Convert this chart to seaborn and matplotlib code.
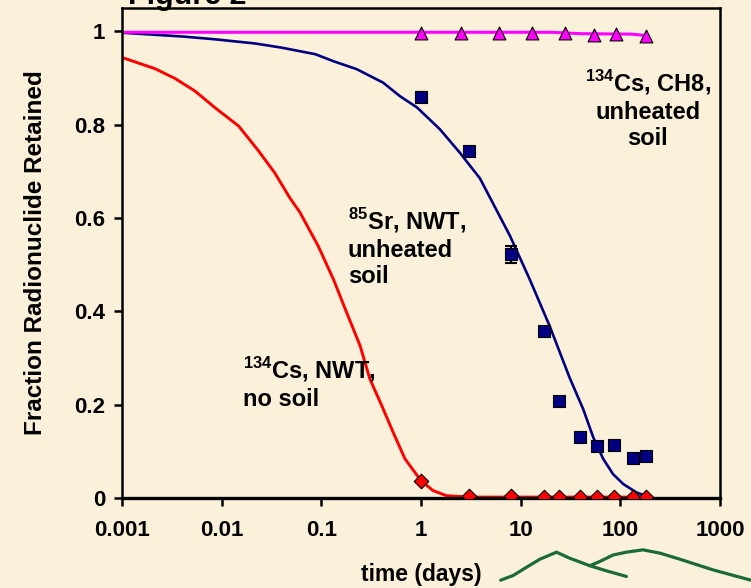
import pandas as pd
import seaborn as sns
import matplotlib.pyplot as plt
import matplotlib.ticker as mticker

# measured points (time in days)
sr_days = [1, 3, 8, 17, 24, 39, 59, 87, 133, 180]
sr_frac = [0.860, 0.743, 0.522, 0.357, 0.207, 0.131, 0.112, 0.114, 0.086, 0.091]
sr_err = [0.010, 0.008, 0.018, 0.010, 0.006, 0.004, 0.004, 0.004, 0.004, 0.004]

cs_nosoil_days = [1, 3, 8, 17, 24, 39, 59, 87, 133, 180]
cs_nosoil_frac = [0.037, 0.005, 0.004, 0.003, 0.003, 0.003, 0.003, 0.003, 0.003, 0.003]

cs_ch8_days = [1, 2.5, 6, 13, 28, 54, 90, 180]
cs_ch8_frac = [0.997, 0.997, 0.997, 0.997, 0.996, 0.993, 0.994, 0.991]

# model curves
sr_fit_days = [0.001, 0.004, 0.0085, 0.0216, 0.04, 0.087, 0.132, 0.226, 0.417, 0.615,
               0.91, 1.55, 2.45, 3.9, 7.8, 12.3, 19.5, 31.1, 42.5, 53.5, 67.3,
               84.7, 107, 145, 178]
sr_fit_frac = [0.997, 0.989, 0.983, 0.974, 0.965, 0.951, 0.936, 0.919, 0.890, 0.861,
               0.837, 0.790, 0.740, 0.685, 0.562, 0.469, 0.369, 0.257, 0.190,
               0.130, 0.084, 0.051, 0.030, 0.012, 0.005]

cs_fit_days = [0.001, 0.00214, 0.0034, 0.0054, 0.0085, 0.0148, 0.0234, 0.034, 0.048,
               0.061, 0.093, 0.132, 0.179, 0.245, 0.307, 0.40, 0.525, 0.69, 1.0, 1.32,
               1.8, 3.2, 180]
cs_fit_frac = [0.944, 0.920, 0.899, 0.872, 0.837, 0.797, 0.744, 0.697, 0.644,
               0.612, 0.540, 0.469, 0.398, 0.326, 0.255, 0.200, 0.141, 0.084, 0.037, 0.016,
               0.005, 0.002, 0.002]

ch8_fit_days = [0.001, 20, 40, 130, 180]
ch8_fit_frac = [0.998, 0.998, 0.995, 0.994, 0.991]

x_ticks = [0.001, 0.01, 0.1, 1, 10, 100, 1000]
x_ticklabels = ['0.001', '0.01', '0.1', '1', '10', '100', '1000']
y_ticks = [0, 0.2, 0.4, 0.6, 0.8, 1.0]
y_ticklabels = ['0', '0.2', '0.4', '0.6', '0.8', '1']

# hand-drawn green scribble below the axis (days, fraction units)
scribble_a_days = [6.3, 8.4, 11.5, 15.6, 22.9, 31.1, 49.4, 72.7, 115]
scribble_a_frac = [-0.176, -0.166, -0.148, -0.131, -0.116, -0.129, -0.145, -0.156, -0.168]
scribble_b_days = [49.4, 62.2, 84.7, 115, 169, 249, 395, 853, 2040]
scribble_b_frac = [-0.145, -0.136, -0.122, -0.116, -0.111, -0.118, -0.131, -0.154, -0.176]

BG = '#FBF1DA'
NAVY = '#000080'

sns.set_theme(style='ticks')
plt.rcParams['font.family'] = ['Liberation Sans', 'DejaVu Sans']
plt.rcParams['font.weight'] = 'bold'
plt.rcParams['text.color'] = 'black'
plt.rcParams['axes.labelcolor'] = 'black'
plt.rcParams['mathtext.fontset'] = 'custom'
plt.rcParams['mathtext.rm'] = 'Liberation Sans:bold'
plt.rcParams['mathtext.bf'] = 'Liberation Sans:bold'


def main():
    fig, ax = plt.subplots(figsize=(7.51, 5.88), dpi=100)
    fig.patch.set_facecolor(BG)
    ax.set_facecolor(BG)
    fig.subplots_adjust(left=0.1625, right=0.9587, top=0.9864, bottom=0.153)

    sr_pts = pd.DataFrame({'days': sr_days, 'frac': sr_frac})
    ns_pts = pd.DataFrame({'days': cs_nosoil_days, 'frac': cs_nosoil_frac})
    ch_pts = pd.DataFrame({'days': cs_ch8_days, 'frac': cs_ch8_frac})

    sns.lineplot(x=cs_fit_days, y=cs_fit_frac, color='#FF0000', lw=2.1, ax=ax)
    sns.lineplot(x=sr_fit_days, y=sr_fit_frac, color=NAVY, lw=1.9, ax=ax)
    sns.lineplot(x=ch8_fit_days, y=ch8_fit_frac, color='#FF00FF', lw=2.2, ax=ax)

    ax.errorbar(sr_days, sr_frac, yerr=sr_err, fmt='none', ecolor='black',
                elinewidth=1.5, capsize=4, capthick=1.5, zorder=3)
    sns.scatterplot(data=sr_pts, x='days', y='frac', marker='s', s=75,
                    color=NAVY, edgecolor='black', linewidth=0.8, zorder=4, ax=ax)
    sns.scatterplot(data=ns_pts, x='days', y='frac', marker='D', s=55,
                    color='#FF0000', edgecolor='black', linewidth=0.8, zorder=4, ax=ax)
    sns.scatterplot(data=ch_pts, x='days', y='frac', marker='^', s=85,
                    color='#FF00FF', edgecolor='black', linewidth=0.8, zorder=4, ax=ax)

    ax.plot(scribble_a_days, scribble_a_frac, color='#1A6A3A', lw=2.3, clip_on=False)
    ax.plot(scribble_b_days, scribble_b_frac, color='#1A6A3A', lw=2.3, clip_on=False)

    ax.set_xscale('log')
    ax.set_xlim(0.001, 1000)
    ax.set_ylim(0, 1.05)
    ax.xaxis.set_minor_locator(mticker.NullLocator())
    ax.set_xticks(x_ticks)
    ax.set_xticklabels(x_ticklabels)
    ax.set_yticks(y_ticks)
    ax.set_yticklabels(y_ticklabels)

    for sp in ax.spines.values():
        sp.set_color('black')
        sp.set_linewidth(1.8)
    ax.spines['bottom'].set_linewidth(2.4)
    ax.tick_params(axis='both', colors='black', labelsize=16, width=1.8,
                   length=6, direction='out')
    ax.tick_params(axis='x', pad=10)
    ax.tick_params(axis='y', pad=6)

    ax.set_xlabel('time (days)', fontsize=16.5, fontweight='bold', labelpad=16)
    ax.set_ylabel('Fraction Radionuclide Retained', fontsize=17.5, fontweight='bold',
                  labelpad=20)

    ax.text(189, 0.833, '$^{134}$Cs, CH8,\nunheated\nsoil', fontsize=17,
            fontweight='bold', ha='center', va='center', multialignment='center',
            linespacing=1.2)
    ax.text(0.185, 0.537, '$^{85}$Sr, NWT,\nunheated\nsoil', fontsize=17,
            fontweight='bold', ha='left', va='center', linespacing=1.2)
    ax.text(0.0164, 0.246, '$^{134}$Cs, NWT,\nno soil', fontsize=17,
            fontweight='bold', ha='left', va='center', linespacing=1.2)

    fig.text(128 / 751, 1 - 4 / 588, 'Figure 2', fontsize=22, fontweight='bold',
             ha='left', va='baseline')

    plt.savefig('out.png', dpi=100, facecolor=BG)


if __name__ == "__main__":
    main()
